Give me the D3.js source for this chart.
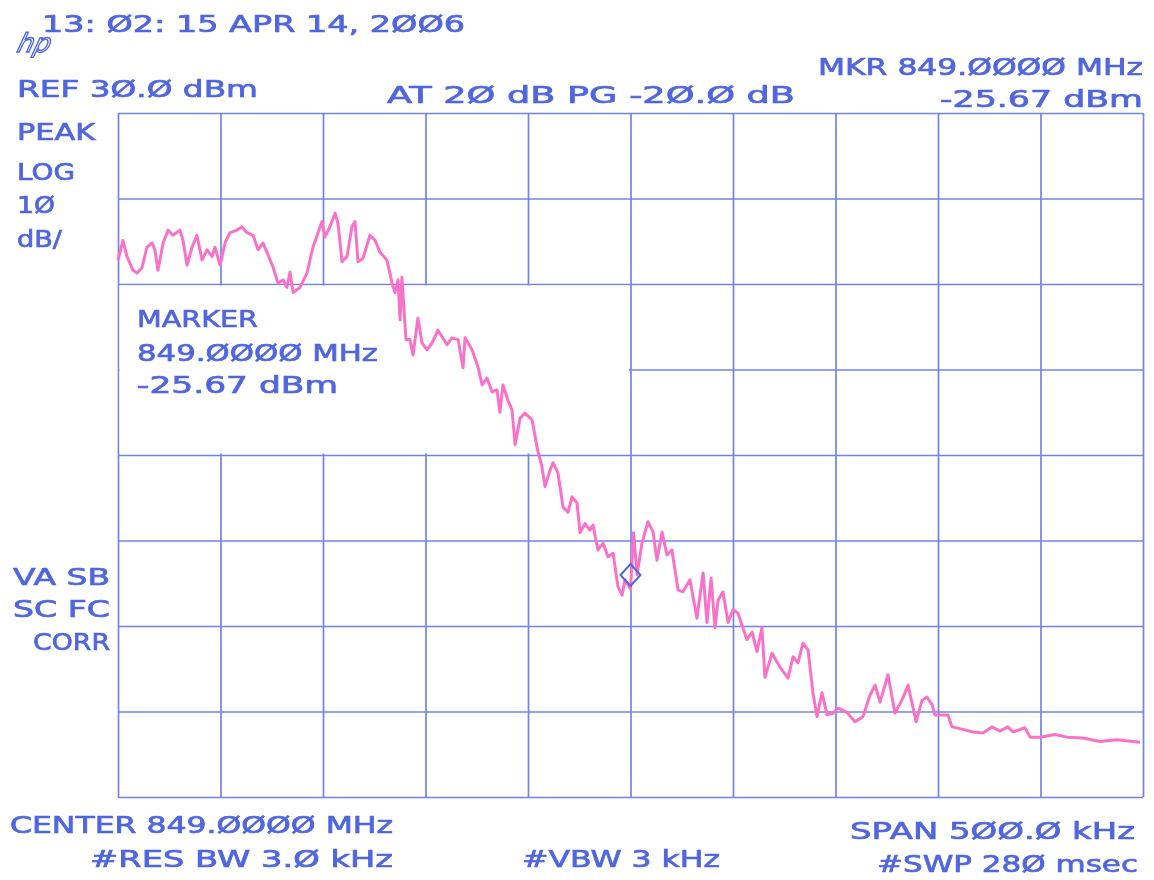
<!DOCTYPE html>
<html><head><meta charset="utf-8">
<script src="https://cdn.jsdelivr.net/npm/d3@7"></script>
<style>html,body{margin:0;padding:0;background:#fff;} svg{display:block;}</style>
</head><body>
<svg id="chart" width="1154" height="880"></svg>
<script>
// ---------------- data ----------------
const centerMHz = 849.0;
const spanKHz = 500;
const refLevelDbm = 30;
const bottomLevelDbm = -50;
const xTickKHz = [-250, -200, -150, -100, -50, 0, 50, 100, 150, 200, 250];
const yTickDbm = [30, 20, 10, 0, -10, -20, -30, -40, -50];
const markerOffsetKHz = 0;
const markerDbm = -25.67;

// trace: frequency offset from centre (kHz) and level (dBm)
const freqOffsetKHz = [
 -250.0,-247.6,-245.6,-242.7,-240.7,-238.3,-235.9,-233.4,-232.0,-230.5,
 -228.0,-225.6,-223.2,-219.8,-218.3,-216.3,-213.9,-211.5,-209.0,-206.6,
 -204.1,-202.7,-200.2,-197.8,-195.4,-192.0,-189.5,-187.1,-184.1,-181.7,
 -179.3,-176.8,-174.4,-172.0,-169.5,-167.6,-166.1,-164.6,-161.2,-157.8,
 -154.9,-152.4,-150.5,-149.0,-146.6,-144.1,-142.7,-140.7,-138.3,-135.9,
 -134.4,-132.9,-130.5,-127.1,-124.6,-122.2,-118.8,-116.3,-114.9,-113.4,
 -112.4,-111.5,-110.5,-109.5,-107.6,-106.1,-103.7,-101.7,-99.3,-96.8,
 -93.9,-89.5,-87.1,-84.1,-81.7,-80.7,-77.3,-74.4,-72.4,-70.0,
 -67.6,-65.1,-63.7,-62.2,-59.8,-57.8,-56.3,-53.9,-51.5,-48.0,
 -45.6,-43.2,-41.7,-39.3,-37.8,-35.4,-32.9,-30.5,-28.5,-26.1,
 -24.6,-22.2,-19.8,-18.3,-15.9,-13.4,-11.0,-8.5,-6.1,-4.1,
 -2.7,0.0,1.5,3.2,5.6,8.5,11.0,12.9,15.4,17.8,
 20.2,23.2,25.6,29.0,32.4,35.4,37.3,39.3,41.2,42.7,
 45.1,47.6,50.0,52.4,56.8,59.3,61.7,64.1,65.6,69.0,
 72.9,76.8,79.3,81.7,84.1,86.6,89.0,91.0,93.4,95.9,
 98.8,101.2,105.6,109.5,113.4,116.8,119.3,121.7,125.6,129.0,
 132.9,135.4,139.3,142.2,144.6,147.1,148.5,154.9,156.8,160.7,
 167.1,172.0,176.3,180.2,184.1,186.6,192.4,194.9,199.8,207.1,
 212.9,220.7,229.0,237.3,248.5
];
const levelDbm = [
 12.8,15.1,13.2,11.6,11.3,11.9,14.3,14.8,14.0,11.6,
 14.8,16.3,15.7,16.3,15.1,12.2,14.3,15.7,12.8,14.0,
 13.2,14.3,12.2,14.8,16.0,16.3,16.7,16.0,15.7,14.0,
 14.8,13.4,12.0,10.1,10.5,9.6,11.4,9.0,9.6,11.3,
 14.3,16.0,17.3,15.5,16.7,18.3,17.1,12.6,13.2,16.7,
 17.3,12.6,13.0,15.7,15.1,13.7,12.8,10.1,9.0,10.5,
 5.8,10.8,7.0,3.5,3.5,1.7,6.0,3.1,2.3,3.1,
 4.6,2.9,3.7,3.5,0.2,3.7,2.3,0.3,-1.8,-1.0,
 -2.6,-2.4,-5.0,-1.8,-3.6,-4.7,-8.8,-5.7,-5.1,-5.9,
 -9.1,-11.4,-13.7,-11.8,-10.9,-12.1,-16.1,-16.7,-14.9,-15.6,
 -19.1,-18.0,-18.8,-18.2,-21.1,-20.3,-21.9,-21.5,-25.4,-26.4,
 -24.6,-25.7,-19.1,-24.0,-20.3,-17.8,-19.0,-22.3,-19.0,-21.7,
 -21.1,-25.8,-26.0,-24.6,-29.1,-23.8,-29.6,-24.4,-30.2,-27.0,
 -26.0,-29.6,-28.1,-28.5,-31.6,-30.7,-33.0,-30.2,-36.0,-33.2,
 -34.8,-36.1,-33.6,-34.3,-32.0,-32.8,-37.8,-40.6,-37.8,-40.4,
 -40.2,-39.6,-40.1,-41.2,-40.6,-38.1,-36.9,-38.9,-35.7,-40.2,
 -38.4,-36.9,-41.2,-38.7,-38.3,-39.2,-40.4,-40.4,-41.8,-42.0,
 -42.4,-42.5,-41.8,-42.3,-41.8,-42.4,-41.9,-43.0,-43.0,-42.7,
 -43.0,-43.1,-43.5,-43.3,-43.6
];

// annotation texts (as printed)
const headerTexts = ["13: Ø2: 15 APR 14, 2ØØ6", "REF 3Ø.Ø dBm", "AT 2Ø dB PG -2Ø.Ø dB", "MKR 849.ØØØØ MHz", "-25.67 dBm"];
const leftTexts = ["PEAK", "LOG", "1Ø", "dB/", "VA SB", "SC FC", "CORR"];
const markerTexts = ["MARKER", "849.ØØØØ MHz", "-25.67 dBm"];
const footerTexts = ["CENTER 849.ØØØØ MHz", "#RES BW 3.Ø kHz", "#VBW 3 kHz", "SPAN 5ØØ.Ø kHz", "#SWP 28Ø msec"];

// ---------------- layout ----------------
const plot = {left: 118, right: 1143, top: 113, bottom: 797};
const inkBlue = "#5066df";
const gridBlue = "#7284ea";
const tracePink = "#fa72c8";

const svg = d3.select("#chart");
const defs = svg.append("defs");
defs.append("filter").attr("id", "soft")
  .append("feGaussianBlur").attr("stdDeviation", 0.5);

const root = svg.append("g").attr("filter", "url(#soft)");

const x = d3.scaleLinear().domain([-spanKHz / 2, spanKHz / 2]).range([plot.left, plot.right]);
const y = d3.scaleLinear().domain([bottomLevelDbm, refLevelDbm]).range([plot.bottom, plot.top]);

// grid (vertical)
const gx = root.append("g").attr("transform", `translate(0,${plot.bottom})`)
  .call(d3.axisBottom(x).tickValues(xTickKHz).tickSize(-(plot.bottom - plot.top)).tickFormat(""));
gx.select(".domain").remove();
gx.selectAll("line").attr("stroke", gridBlue).attr("stroke-width", 1.7);

// grid (horizontal)
const gy = root.append("g").attr("transform", `translate(${plot.left},0)`)
  .call(d3.axisLeft(y).tickValues(yTickDbm).tickSize(-(plot.right - plot.left)).tickFormat(""));
gy.select(".domain").remove();
gy.selectAll("line").attr("stroke", gridBlue).attr("stroke-width", 1.7);

// marker readout window blanks the grid underneath
root.append("rect")
  .attr("x", x(-250) + 1.5).attr("y", y(10) + 1.5)
  .attr("width", x(0) - x(-250) - 3).attr("height", y(-10) - y(10) - 3)
  .attr("fill", "#fff");

// trace
const traceData = freqOffsetKHz.map((f, i) => ({f, v: levelDbm[i]}));
root.append("path").datum(traceData)
  .attr("fill", "none").attr("stroke", tracePink).attr("stroke-width", 3)
  .attr("stroke-linejoin", "round")
  .attr("d", d3.line().x(d => x(d.f)).y(d => y(d.v)));

// marker diamond
const mx = x(markerOffsetKHz), my = y(markerDbm) - 14;
root.append("path")
  .attr("d", `M${mx},${my - 11}L${mx + 10},${my}L${mx},${my + 11}L${mx - 10},${my}Z`)
  .attr("fill", "none").attr("stroke", inkBlue).attr("stroke-width", 2);

// texts
function addText(str, xPos, base, len, size) {
  root.append("text").text(str)
    .attr("x", xPos).attr("y", base)
    .attr("textLength", len).attr("lengthAdjust", "spacingAndGlyphs")
    .attr("font-family", "DejaVu Sans, sans-serif")
    .attr("font-size", size || 23)
    .attr("fill", inkBlue).attr("stroke", inkBlue).attr("stroke-width", 0.7);
}
const headerPos = [[42, 32, 423], [17, 97, 241], [387, 103, 408], [818, 75, 325], [940, 107, 203]];
headerTexts.forEach((t, i) => addText(t, ...headerPos[i]));
const leftPos = [[17, 140, 78], [17, 180, 58], [17, 213, 38], [17, 247, 45], [13, 585, 97], [13, 617, 97], [33, 650, 77]];
leftTexts.forEach((t, i) => addText(t, ...leftPos[i]));
const markerPos = [[137, 327, 121], [137, 361, 241], [137, 393, 201]];
markerTexts.forEach((t, i) => addText(t, ...markerPos[i]));
const footerPos = [[10, 833, 383], [90, 867, 303], [522, 867, 198], [850, 839, 285], [877, 872, 261]];
footerTexts.forEach((t, i) => addText(t, ...footerPos[i]));

// hp logo
root.append("text").text("hp")
  .attr("x", 18).attr("y", 52)
  .attr("font-family", "DejaVu Sans, sans-serif").attr("font-style", "italic")
  .attr("font-size", 26).attr("fill", "none")
  .attr("stroke", inkBlue).attr("stroke-width", 1.4)
  .attr("transform", "skewX(-15) translate(12,0)");
</script>
</body></html>
